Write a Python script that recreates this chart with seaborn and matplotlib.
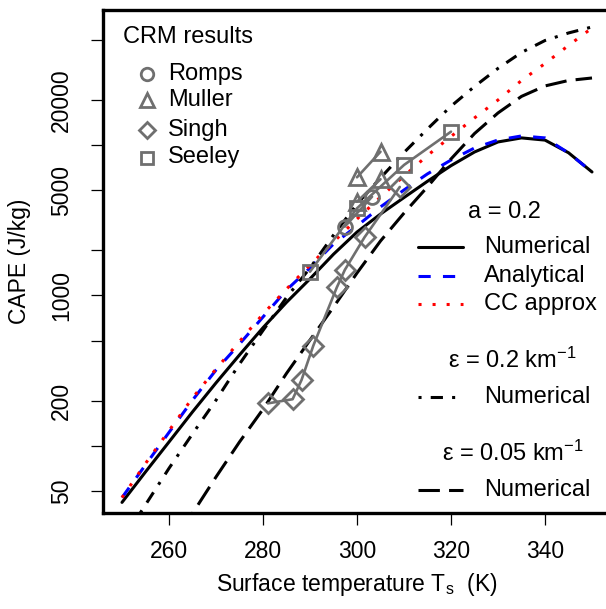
import matplotlib
matplotlib.use("Agg")
import matplotlib.pyplot as plt
from matplotlib.ticker import NullLocator, FixedLocator, FixedFormatter
import seaborn as sns

# ---------------- data ----------------
T = [250, 255, 260, 265, 270, 275, 280, 285, 290, 295, 300,
     305, 310, 315, 320, 325, 330, 335, 340, 345, 350]
cape_numerical = [42, 67, 106, 168, 262, 402, 610, 900, 1290, 1880, 2640,
                  3480, 4480, 5750, 7300, 9000, 10500, 11170, 10800, 8900, 6630]
cape_analytical = [45.2, 74.6, 122.7, 201, 319, 475, 719, 1087, 1524, 2200, 2900,
                   3880, 5030, 6440, 7960, 9570, 10820, 11510, 11170, 8870, 6630]
cape_cc = [45.2, 76.2, 126, 208, 324, 494, 752, 1103, 1594, 2267, 3225,
           4520, 6230, 8540, 11420, 15170, 19960, 26910, 34920, 46040, 60130]
cape_eps02 = [23.2, 40.5, 70.8, 120, 201, 350, 585, 970, 1523, 2520, 4060,
              6050, 8930, 12820, 18150, 24560, 32400, 41360, 49660, 55740, 61110]
cape_eps005 = [5.9, 10, 18.8, 35.5, 62, 106, 175, 303, 505, 837, 1410,
               2303, 3530, 5280, 8090, 11940, 16370, 21100, 24760, 26920, 27970]

romps_T = [297.4, 303.2]
romps_cape = [2870, 4540]
muller_T = [300, 305]
muller_cape_a = [4205, 5930]
muller_cape_b = [6110, 9040]
singh_T = [281.1, 286.3, 288.2, 290.7, 295.7, 297.4, 301.6, 309.1]
singh_cape = [191.6, 204, 274, 463, 1130, 1477, 2438, 5270]
seeley_T = [290, 300, 310, 320]
seeley_cape = [1439, 3800, 7380, 12290]

ytick_vals = [50, 100, 200, 500, 1000, 2000, 5000, 10000, 20000, 50000]
ytick_labels = ["50", "", "200", "", "1000", "", "5000", "", "20000", ""]
xtick_vals = [260, 280, 300, 320, 340]

# ---------------- style ----------------
sns.set_style("ticks")
plt.rcParams["font.family"] = ["Liberation Sans", "DejaVu Sans"]
plt.rcParams["mathtext.fontset"] = "custom"
plt.rcParams["mathtext.rm"] = "Liberation Sans"
plt.rcParams["mathtext.it"] = "Liberation Sans:italic"
plt.rcParams["text.color"] = "black"
plt.rcParams["axes.labelcolor"] = "black"
plt.rcParams["xtick.color"] = "black"
plt.rcParams["ytick.color"] = "black"
FS = 16.5
GRAY = "#6f6f6f"
LW = 2.2

fig = plt.figure(figsize=(6.06, 6.09), dpi=100)
ax = fig.add_axes([103.2 / 606, 1 - 513 / 609, 507.6 / 606, 503 / 609])
ax.set_yscale("log")

# model curves
sns.lineplot(x=T, y=cape_numerical, ax=ax, color="black", lw=LW, linestyle="-")
sns.lineplot(x=T, y=cape_analytical, ax=ax, color="#0000ff", lw=LW,
             linestyle=(0, (4, 4)))
sns.lineplot(x=T, y=cape_cc, ax=ax, color="#ff0000", lw=LW,
             linestyle=(0, (1, 3.6)))
sns.lineplot(x=T, y=cape_eps02, ax=ax, color="black", lw=LW,
             linestyle=(0, (1, 3, 4, 3)))
sns.lineplot(x=T, y=cape_eps005, ax=ax, color="black", lw=LW,
             linestyle=(0, (7, 3)))

# CRM results
mk = dict(color=GRAY, lw=1.9, markerfacecolor="none", markeredgecolor=GRAY,
          markeredgewidth=2.0)
sns.lineplot(x=romps_T, y=romps_cape, ax=ax, marker="o", markersize=10, **mk)
sns.lineplot(x=muller_T, y=muller_cape_a, ax=ax, marker="^", markersize=11, **mk)
sns.lineplot(x=muller_T, y=muller_cape_b, ax=ax, marker="^", markersize=11, **mk)
sns.lineplot(x=singh_T, y=singh_cape, ax=ax, marker="D", markersize=10, **mk)
sns.lineplot(x=seeley_T, y=seeley_cape, ax=ax, marker="s", markersize=10, **mk)

# axes
ax.set_xlim(246, 354)
ax.set_ylim(35.7, 79250)
ax.yaxis.set_minor_locator(NullLocator())
ax.yaxis.set_major_locator(FixedLocator(ytick_vals))
ax.yaxis.set_major_formatter(FixedFormatter(ytick_labels))
ax.set_xticks(xtick_vals)
ax.set_xticklabels([str(v) for v in xtick_vals])
ax.tick_params(axis="both", direction="out", length=8.5, width=0.9,
               colors="black", labelcolor="black", labelsize=FS)
ax.tick_params(axis="x", pad=11)
ax.tick_params(axis="y", pad=13, labelrotation=90)
for lab in ax.get_yticklabels():
    lab.set_va("center")
for s in ["left", "top", "bottom", "right"]:
    ax.spines[s].set_linewidth(2.4)
    ax.spines[s].set_color("black")

ax.set_xlabel(r"Surface temperature T$_\mathrm{s}$  (K)", fontsize=FS,
              labelpad=6, color="black")
ax.set_ylabel("CAPE (J/kg)", fontsize=FS, labelpad=14, color="black")


# ---------------- legends (drawn in axes coordinates) ----------------
def fx(px):
    return (px - 103.2) / 507.6


def fy(py):
    return (513 - py) / 503


tr = ax.transAxes
ax.text(fx(123), fy(37), "CRM results", transform=tr, fontsize=FS + 0.5,
        ha="left", va="center", color="black")
crm_items = [("o", 10, "Romps", 74), ("^", 11, "Muller", 100),
             ("D", 9.5, "Singh", 130), ("s", 10, "Seeley", 157.5)]
for m, ms, name, py in crm_items:
    ax.plot([fx(147)], [fy(py)], transform=tr, marker=m, markersize=ms - 1,
            markerfacecolor="none", markeredgecolor=GRAY, markeredgewidth=2.0,
            linestyle="none", clip_on=False)
    ax.text(fx(168), fy(py), name, transform=tr, fontsize=FS + 0.5,
            ha="left", va="center", color="black")

ax.text(fx(468), fy(212), "a = 0.2", transform=tr, fontsize=FS + 0.5,
        ha="left", va="center", color="black")
leg_lines = [("black", "-", "Numerical", 247),
             ("#0000ff", (0, (4, 4)), "Analytical", 276),
             ("#ff0000", (0, (1, 3.6)), "CC approx", 304)]
for c, ls, name, py in leg_lines:
    ax.plot([fx(418), fx(463)], [fy(py), fy(py)], transform=tr, color=c,
            lw=LW, linestyle=ls, clip_on=False)
    ax.text(fx(484), fy(py), name, transform=tr, fontsize=FS + 0.5,
            ha="left", va="center", color="black")

ax.text(fx(448), fy(360), "ε = 0.2 km$^{-1}$", transform=tr, fontsize=FS + 0.5,
        ha="left", va="center", color="black")
ax.plot([fx(418), fx(463)], [fy(397), fy(397)], transform=tr, color="black",
        lw=LW, linestyle=(0, (1, 3, 4, 3)), clip_on=False)
ax.text(fx(484), fy(397), "Numerical", transform=tr, fontsize=FS + 0.5,
        ha="left", va="center", color="black")

ax.text(fx(442), fy(453), "ε = 0.05 km$^{-1}$", transform=tr, fontsize=FS + 0.5,
        ha="left", va="center", color="black")
ax.plot([fx(418), fx(463)], [fy(490), fy(490)], transform=tr, color="black",
        lw=LW, linestyle=(0, (7, 3)), clip_on=False)
ax.text(fx(484), fy(490), "Numerical", transform=tr, fontsize=FS + 0.5,
        ha="left", va="center", color="black")

fig.savefig("out.png", dpi=100)
